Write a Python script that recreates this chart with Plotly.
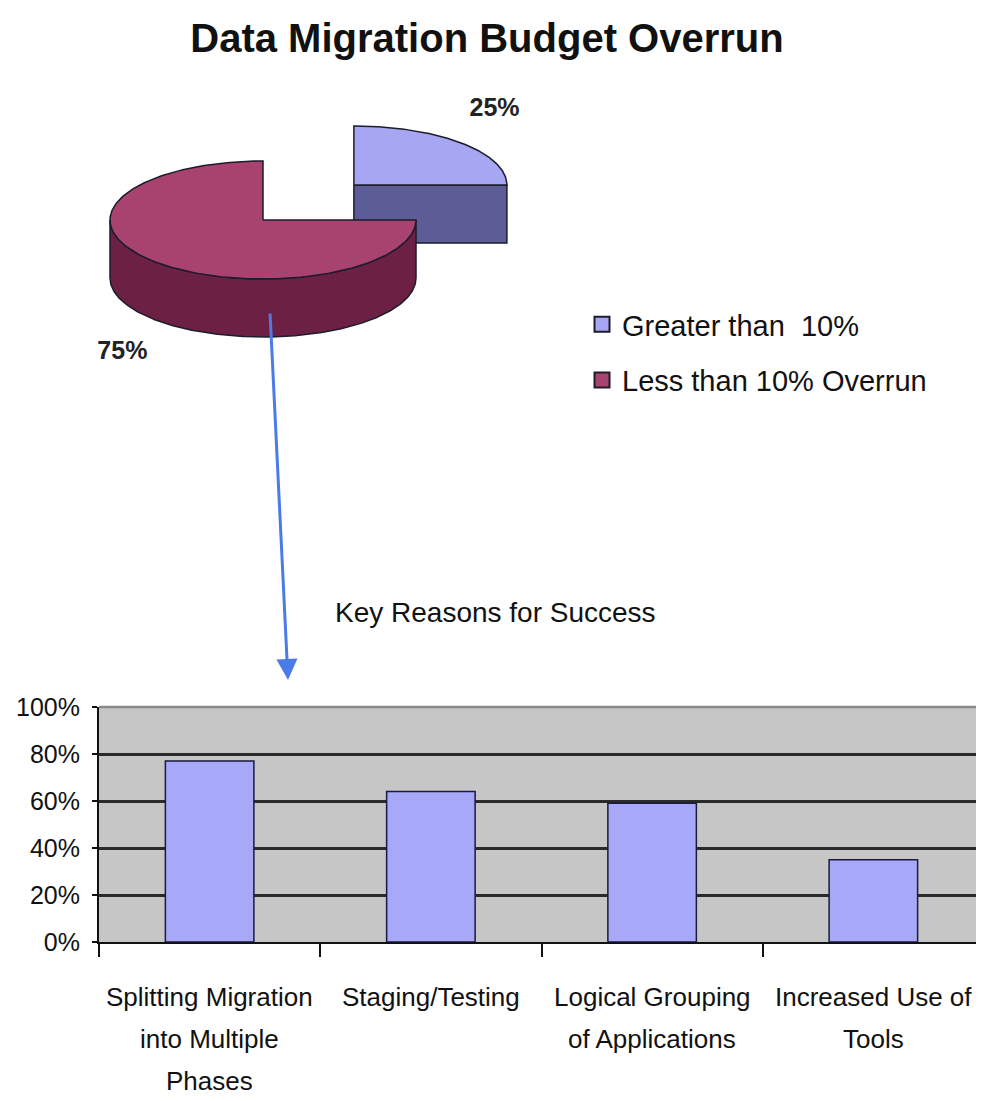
import numpy as np
import plotly.graph_objects as go

# ---------------- data ----------------
pie_labels = ["Greater than  10%", "Less than 10% Overrun"]
pie_values = [25, 75]
pie_top_colors = ["#a6a6f2", "#a8426f"]
pie_side_colors = ["#5c5c96", "#6c2044"]

bar_categories = [
    "Splitting Migration<br>into Multiple<br>Phases",
    "Staging/Testing",
    "Logical Grouping<br>of Applications",
    "Increased Use of<br>Tools",
]
bar_values = [0.77, 0.64, 0.59, 0.35]
y_tick_vals = [0, 0.2, 0.4, 0.6, 0.8, 1.0]
y_tick_text = ["0%", "20%", "40%", "60%", "80%", "100%"]

FONT = "Liberation Sans, Arial, sans-serif"
OFF = 8                      # page body margin
W, H = 984 - OFF, 1101 - OFF  # figure size so that the page is 984x1101
PIE_H = 450                  # pixel height of the pie drawing area


def px(X):
    return (X - OFF) / W


def py(Y):
    return 1 - (Y - OFF) / H


fig = go.Figure()

# ---------------- 3D pie (drawn from values) ----------------
cx, cy, rx, ry, depth = 263.0, 220.0, 153.0, 59.0, 58.0
pull = [0.84, 0.0]
start = 90.0
total = float(sum(pie_values))
angles = []
a = start
for v in pie_values:
    span = 360.0 * v / total
    angles.append((a, a - span))
    a -= span


def ept(ox, oy, th, dz=0.0):
    t = np.radians(th)
    return ox + rx * np.cos(t), oy - ry * np.sin(t) + dz


line_col = "#1c1c2c"
for i in [0, 1]:  # back slice first
    a0, a1 = angles[i]
    mid = np.radians((a0 + a1) / 2.0)
    ox = cx + pull[i] * rx * np.cos(mid)
    oy = cy - pull[i] * ry * np.sin(mid)
    sides = []
    lo, hi = min(a0, a1), max(a0, a1)
    rim = [th for th in np.linspace(lo, hi, 361) if np.sin(np.radians(th)) <= 1e-9]
    if len(rim) > 1:
        xs_t, ys_t = zip(*[ept(ox, oy, th) for th in rim])
        xs_b, ys_b = zip(*[ept(ox, oy, th, depth) for th in rim[::-1]])
        sides.append((list(xs_t) + list(xs_b) + [xs_t[0]], list(ys_t) + list(ys_b) + [ys_t[0]]))
    for edge, other in ((a1, a0), (a0, a1)):
        if np.sin(np.radians(edge)) >= -1e-9 and np.cos(np.radians(edge)) > 0.5 and other > edge:
            ex, ey = ept(ox, oy, edge)
            sides.append(([ox, ex, ex, ox, ox], [oy, ey, ey + depth, oy + depth, oy]))
    for sx, sy in sides:
        fig.add_trace(go.Scatter(x=sx, y=sy, xaxis="x2", yaxis="y2", mode="lines",
                                 fill="toself", fillcolor=pie_side_colors[i],
                                 line=dict(color=line_col, width=1.5),
                                 showlegend=False, hoverinfo="skip"))
    ths = np.linspace(a0, a1, 240)
    tx = [ox] + [ept(ox, oy, th)[0] for th in ths] + [ox]
    ty = [oy] + [ept(ox, oy, th)[1] for th in ths] + [oy]
    fig.add_trace(go.Scatter(x=tx, y=ty, xaxis="x2", yaxis="y2", mode="lines",
                             fill="toself", fillcolor=pie_top_colors[i],
                             line=dict(color=line_col, width=1.5),
                             showlegend=False, name=pie_labels[i],
                             hoverinfo="name"))

# pie percentage labels
label_pos = []
for i, v in enumerate(pie_values):
    a0, a1 = angles[i]
    mid = np.radians((a0 + a1) / 2.0)
    ox = cx + pull[i] * rx * np.cos(mid)
    oy = cy - pull[i] * ry * np.sin(mid)
    lx = ox + 1.3 * rx * np.cos(mid)
    ly = oy - 1.8 * ry * np.sin(mid) + (depth if np.sin(mid) < 0 else 0)
    label_pos.append((lx, ly))
fig.add_trace(go.Scatter(
    x=[p[0] for p in label_pos], y=[p[1] for p in label_pos],
    xaxis="x2", yaxis="y2", mode="text",
    text=[f"<b>{v}%</b>" for v in pie_values],
    textfont=dict(family=FONT, size=25, color="#222222"),
    showlegend=False, hoverinfo="skip"))

# legend entries
for i, lab in enumerate(pie_labels):
    fig.add_trace(go.Scatter(x=[None], y=[None], xaxis="x2", yaxis="y2", mode="markers",
                             marker=dict(symbol="square", size=15, color=pie_top_colors[i],
                                         line=dict(color="#1c1c2c", width=2)),
                             name=lab, legendgroup=f"g{i}", showlegend=True))

# ---------------- bar chart ----------------
fig.add_trace(go.Bar(
    x=list(range(len(bar_categories))), y=bar_values, xaxis="x", yaxis="y",
    marker=dict(color="#a8a8f8", line=dict(color="#1a1a40", width=1.5)),
    width=0.4, showlegend=False, hovertemplate="%{y:.0%}<extra></extra>"))

# category labels (one annotation per line so line spacing matches)
annotations = []
LINE_GAP = 42
FIRST_LINE_Y = 997
for ci, cat in enumerate(bar_categories):
    for li, part in enumerate(cat.split("<br>")):
        annotations.append(dict(text=part, xref="x", yref="paper", x=ci,
                                y=py(FIRST_LINE_Y + li * LINE_GAP),
                                xanchor="center", yanchor="middle", showarrow=False,
                                font=dict(family=FONT, size=26, color="#111111")))

annotations += [
    dict(text="Key Reasons for Success", xref="paper", yref="paper",
         x=px(495), y=py(612), xanchor="center", yanchor="middle",
         showarrow=False, font=dict(family=FONT, size=28, color="#111111")),
    dict(text="", xref="paper", yref="paper", x=px(288), y=py(680),
         ax=-18, ay=-368, showarrow=True, arrowhead=2, arrowsize=1.4,
         arrowwidth=3, arrowcolor="#4a7be6"),
]

fig.update_layout(
    width=W, height=H,
    margin=dict(l=0, r=0, t=0, b=0),
    paper_bgcolor="white",
    plot_bgcolor="white",
    font=dict(family=FONT, size=26, color="#111111"),
    title=dict(text="<b>Data Migration Budget Overrun</b>",
               font=dict(family=FONT, size=40, color="#111111"),
               x=px(487), xanchor="center", y=py(38), yanchor="middle"),
    xaxis=dict(domain=[px(99), 1.0], anchor="y", range=[-0.5, 3.5],
               tickvals=[-0.5, 0.5, 1.5, 2.5, 3.5], showticklabels=False,
               showline=True, linecolor="#111111", linewidth=2,
               ticks="outside", ticklen=13, tickcolor="#111111",
               tickwidth=2, showgrid=False, zeroline=False, automargin=False),
    yaxis=dict(domain=[py(942), py(707)], anchor="x", range=[0, 1],
               tickvals=y_tick_vals, ticktext=y_tick_text,
               showline=True, linecolor="#111111", linewidth=2,
               ticks="outside", ticklen=5, tickcolor="#111111", tickwidth=2,
               showgrid=True, gridcolor="#2a2a2a", gridwidth=2.5,
               zeroline=False, automargin=False,
               tickfont=dict(family=FONT, size=25, color="#111111"),
               ticklabelstandoff=7),
    xaxis2=dict(domain=[0, 1], range=[OFF, OFF + W], anchor="y2", visible=False,
                automargin=False),
    yaxis2=dict(domain=[1 - PIE_H / H, 1], range=[OFF + PIE_H, OFF], anchor="x2",
                visible=False, automargin=False),
    legend=dict(x=px(582), y=py(299), xanchor="left", yanchor="top",
                font=dict(family=FONT, size=29, color="#111111"),
                bgcolor="rgba(0,0,0,0)", itemwidth=30, tracegroupgap=15),
    shapes=[
        dict(type="rect", xref="x domain", yref="y domain", x0=0, x1=1, y0=0, y1=1,
             fillcolor="#c6c6c6", line=dict(width=0), layer="below"),
        dict(type="line", xref="x domain", yref="y domain", x0=0, x1=1, y0=1, y1=1,
             line=dict(color="#8a8a8a", width=2.5), layer="above"),
    ],
    annotations=annotations,
)

fig.write_html("out.html")
